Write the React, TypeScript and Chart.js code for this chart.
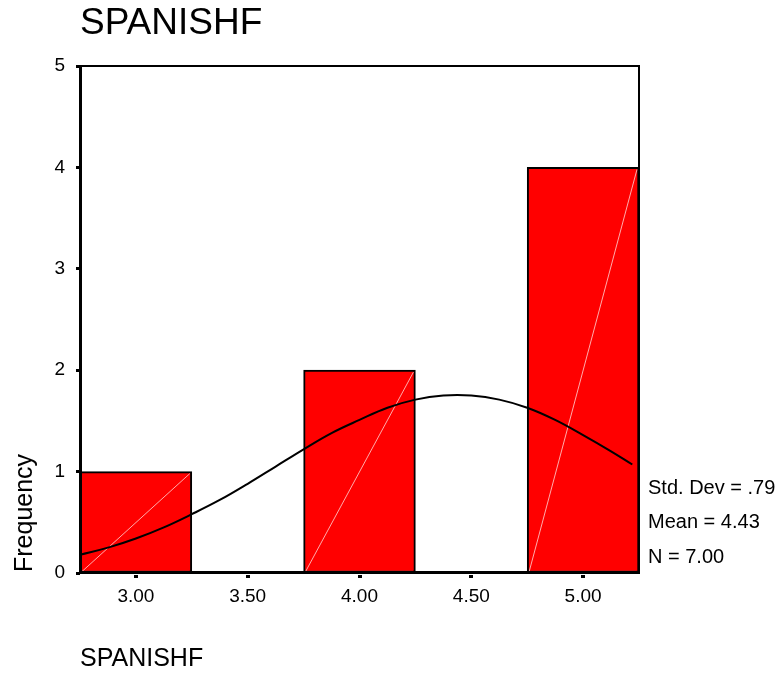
import React, { useEffect, useRef } from "react";
import { Chart, registerables } from "chart.js";

Chart.register(...registerables);

const titleText = "SPANISHF";
const xAxisTitle = "SPANISHF";
const yAxisTitle = "Frequency";
const binCenters = [3.0, 3.5, 4.0, 4.5, 5.0];
const frequencies = [1, 0, 2, 0, 4];
const xTicks = [3.0, 3.5, 4.0, 4.5, 5.0];
const yTicks = [0, 1, 2, 3, 4, 5];
const curveX = [2.75, 2.875, 3.0, 3.125, 3.25, 3.375, 3.5, 3.625, 3.75, 3.875, 4.0, 4.125, 4.25, 4.375, 4.5, 4.625, 4.75, 4.875, 5.0, 5.125, 5.22];
const curveY = [0.18, 0.25, 0.34, 0.45, 0.58, 0.72, 0.88, 1.05, 1.22, 1.38, 1.51, 1.63, 1.71, 1.75, 1.75, 1.71, 1.63, 1.51, 1.36, 1.2, 1.07];
const statLines = ["Std. Dev = .79", "Mean = 4.43", "N = 7.00"];

const FONT = "'Liberation Sans', Arial, sans-serif";

export default function App() {
  const ref = useRef<HTMLCanvasElement | null>(null);
  useEffect(() => {
    if (!ref.current) return;
    const decor = {
      id: "decor",
      afterDatasetDraw(chart: any, args: any) {
        if (args.index !== 0) return;
        const ctx = chart.ctx;
        ctx.save();
        ctx.strokeStyle = "rgba(255,190,190,0.9)";
        ctx.lineWidth = 1;
        args.meta.data.forEach((el: any) => {
          const p = el.getProps(["x", "y", "base", "width"], true);
          if (Math.abs(p.base - p.y) < 1) return;
          ctx.beginPath();
          ctx.moveTo(p.x - p.width / 2 + 2, p.base - 1);
          ctx.lineTo(p.x + p.width / 2 - 2, p.y + 2);
          ctx.stroke();
        });
        ctx.restore();
      },
      afterDraw(chart: any) {
        const ctx = chart.ctx;
        const a = chart.chartArea;
        ctx.save();
        ctx.strokeStyle = "#000";
        ctx.lineWidth = 2;
        ctx.strokeRect(a.left, a.top, a.right - a.left, a.bottom - a.top);
        ctx.lineWidth = 3;
        ctx.beginPath();
        ctx.moveTo(a.left + 0.5, a.top - 1);
        ctx.lineTo(a.left + 0.5, a.bottom + 1);
        ctx.moveTo(a.left - 1, a.bottom - 0.5);
        ctx.lineTo(a.right + 1, a.bottom - 0.5);
        ctx.stroke();
        // x tick marks
        const xs = chart.scales.x;
        ctx.fillStyle = "#000";
        xTicks.forEach((v) => {
          const px = xs.getPixelForValue(v);
          ctx.fillRect(Math.round(px) - 2, a.bottom + 2, 4, 3);
        });
        // texts
        ctx.fillStyle = "#000";
        ctx.textAlign = "left";
        ctx.textBaseline = "alphabetic";
        ctx.font = `37px ${FONT}`;
        ctx.fillText(titleText, a.left, 34);
        ctx.font = `25px ${FONT}`;
        ctx.fillText(xAxisTitle, a.left, 666);
        ctx.font = `20px ${FONT}`;
        const sy = [494, 528, 563];
        statLines.forEach((s, i) => ctx.fillText(s, a.right + 9, sy[i]));
        ctx.save();
        ctx.translate(32, 572);
        ctx.rotate(-Math.PI / 2);
        ctx.font = `25px ${FONT}`;
        ctx.fillText(yAxisTitle, 0, 0);
        ctx.restore();
        ctx.restore();
      },
    };
    const chart = new Chart(ref.current, {
      type: "bar",
      data: {
        datasets: [
          {
            type: "bar",
            data: binCenters.map((x, i) => ({ x, y: frequencies[i] })),
            backgroundColor: "#ff0000",
            borderColor: "#000",
            borderWidth: 2,
            borderSkipped: false,
            barPercentage: 1,
            categoryPercentage: 1,
            order: 2,
          } as any,
          {
            type: "line",
            data: curveX.map((x, i) => ({ x, y: curveY[i] })),
            borderColor: "#000",
            borderWidth: 2,
            pointRadius: 0,
            tension: 0.4,
            fill: false,
            order: 1,
          } as any,
        ],
      },
      options: {
        responsive: false,
        animation: false,
        layout: { padding: { left: 0, top: 66, right: 143, bottom: 62 } },
        plugins: {
          legend: { display: false },
          tooltip: { enabled: false },
          title: { display: false },
        },
        scales: {
          x: {
            type: "linear",
            min: 2.75,
            max: 5.25,
            offset: false,
            afterBuildTicks: (s: any) => {
              s.ticks = xTicks.map((v) => ({ value: v }));
            },
            afterFit: (s: any) => {
              s.height = 40;
            },
            ticks: {
              callback: (v: any) => Number(v).toFixed(2),
              color: "#000",
              font: { family: FONT, size: 19 },
              padding: 12,
              maxRotation: 0,
              autoSkip: false,
            },
            grid: { display: false, drawOnChartArea: false, drawTicks: false, offset: false },
            border: { display: false },
          },
          y: {
            type: "linear",
            min: 0,
            max: 5,
            afterBuildTicks: (s: any) => {
              s.ticks = yTicks.map((v) => ({ value: v }));
            },
            afterFit: (s: any) => {
              s.width = 80;
            },
            ticks: {
              color: "#000",
              font: { family: FONT, size: 19 },
              padding: 11,
            },
            grid: {
              drawOnChartArea: false,
              drawTicks: true,
              tickLength: 4,
              tickWidth: 3,
              tickColor: "#000",
            },
            border: { display: false },
          },
        },
      } as any,
      plugins: [decor],
    });
    return () => chart.destroy();
  }, []);
  return (
    <canvas
      ref={ref}
      width={782}
      height={675}
      style={{ position: "fixed", left: 0, top: 0, width: 782, height: 675, background: "#fff" }}
    />
  );
}
